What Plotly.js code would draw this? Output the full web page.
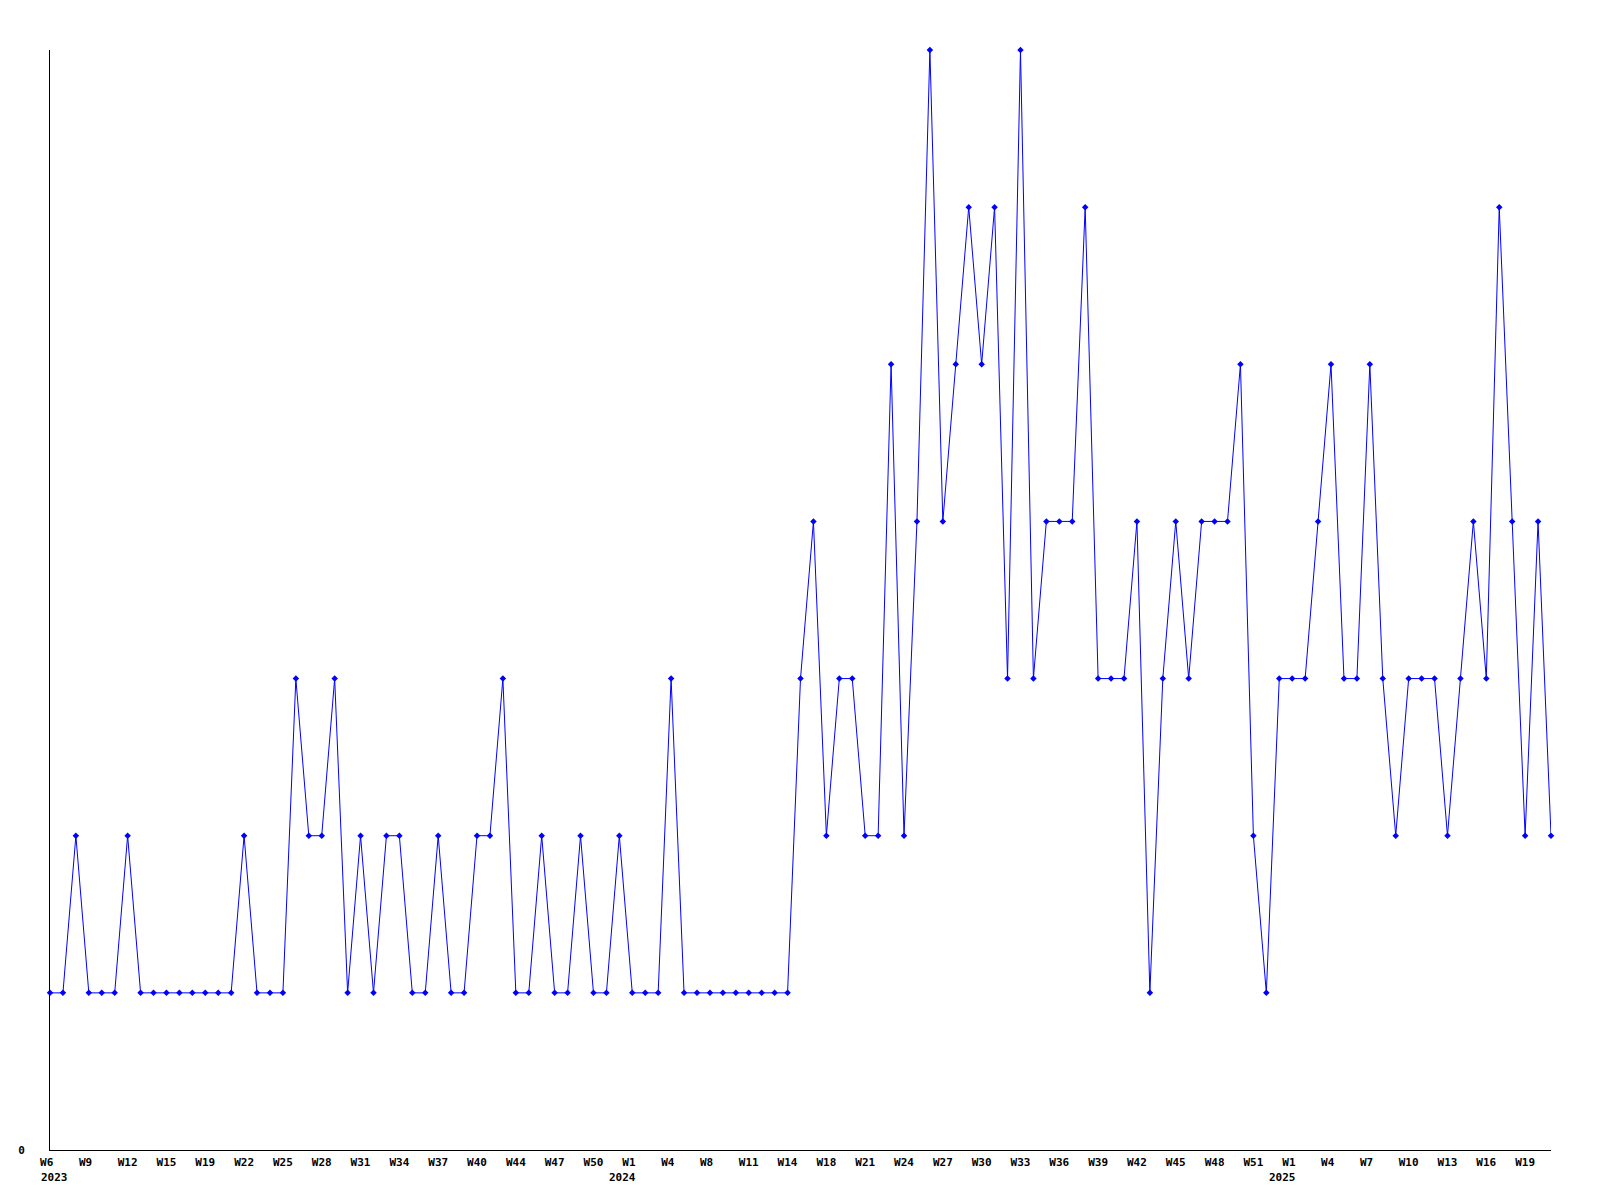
<!DOCTYPE html>
<html>
<head>
<meta charset="utf-8">
<script src="https://cdn.plot.ly/plotly-3.0.1.min.js"></script>
<style>html,body{margin:0;padding:0;background:#fff;}#chart{width:1600px;height:1200px;}</style>
</head>
<body>
<div id="chart"></div>
<script>
// Weekly counts, one value per data point (117 points)
const values = [
  1,1,2,1,1,1,2,1,1,1,1,1,1,1,1,2,1,1,1,3,
  2,2,3,1,2,1,2,2,1,1,2,1,1,2,2,3,1,1,2,1,
  1,2,1,1,2,1,1,1,3,1,1,1,1,1,1,1,1,1,3,4,
  2,3,3,2,2,5,2,4,7,4,5,6,5,6,3,7,3,4,4,4,
  6,3,3,3,4,1,3,4,3,4,4,4,5,2,1,3,3,3,4,5,
  3,3,5,3,2,3,3,3,2,3,4,3,6,4,2,4,2
];
// Tick labels, one every third point
const tickLabels = [
  "W6","W9","W12","W15","W19","W22","W25","W28","W31","W34","W37","W40","W44","W47","W50",
  "W1","W4","W8","W11","W14","W18","W21","W24","W27","W30","W33","W36","W39","W42","W45","W48","W51",
  "W1","W4","W7","W10","W13","W16","W19"
];
// Year labels and the tick label index where each year starts
const years = ["2023","2024","2025"];
const yearTickIndex = [0, 15, 32];
const tickStep = 3;

const xIdx = values.map((v, i) => i);
const tickVals = tickLabels.map((t, i) => i * tickStep);
const tickText = tickLabels.map(t => t.length < 3 ? t + "\u00A0".repeat(3 - t.length) : t);

const font = {family: "DejaVu Sans Mono", size: 11, color: "#000"};

const annotations = years.map((y, k) => ({
  x: tickVals[yearTickIndex[k]], xref: "x",
  y: 0, yref: "paper",
  yshift: -27,
  xshift: k === 0 ? -11 : -10,
  xanchor: k === 0 ? "left" : "center",
  yanchor: "middle",
  text: "<b>" + y + "</b>",
  showarrow: false,
  font: font
}));

const trace = {
  x: xIdx, y: values,
  type: "scatter", mode: "lines+markers",
  cliponaxis: false,
  line: {color: "#0000ff", width: 1},
  marker: {color: "#0000ff", size: 5, symbol: "diamond"},
  hoverinfo: "none"
};

const layout = {
  width: 1600, height: 1200,
  margin: {l: 50, r: 49, t: 50, b: 50, pad: 0},
  paper_bgcolor: "#fff", plot_bgcolor: "#fff",
  showlegend: false,
  font: font,
  xaxis: {
    range: [0, values.length - 1],
    tickmode: "array", tickvals: tickVals,
    ticktext: tickText.map(t => "<b>" + t + "</b>"),
    showgrid: false, zeroline: false,
    showline: true, linecolor: "#000", linewidth: 1,
    ticks: "", tickangle: 0,
    tickfont: font, ticklabelstandoff: 2
  },
  yaxis: {
    range: [0, 7],
    tickmode: "array", tickvals: [0], ticktext: ["<b>0</b>"],
    showgrid: false, zeroline: false,
    showline: true, linecolor: "#000", linewidth: 1,
    ticks: "", tickfont: font, ticklabelstandoff: 22
  },
  annotations: annotations
};

Plotly.newPlot("chart", [trace], layout, {displayModeBar: false, staticPlot: true});
</script>
</body>
</html>
